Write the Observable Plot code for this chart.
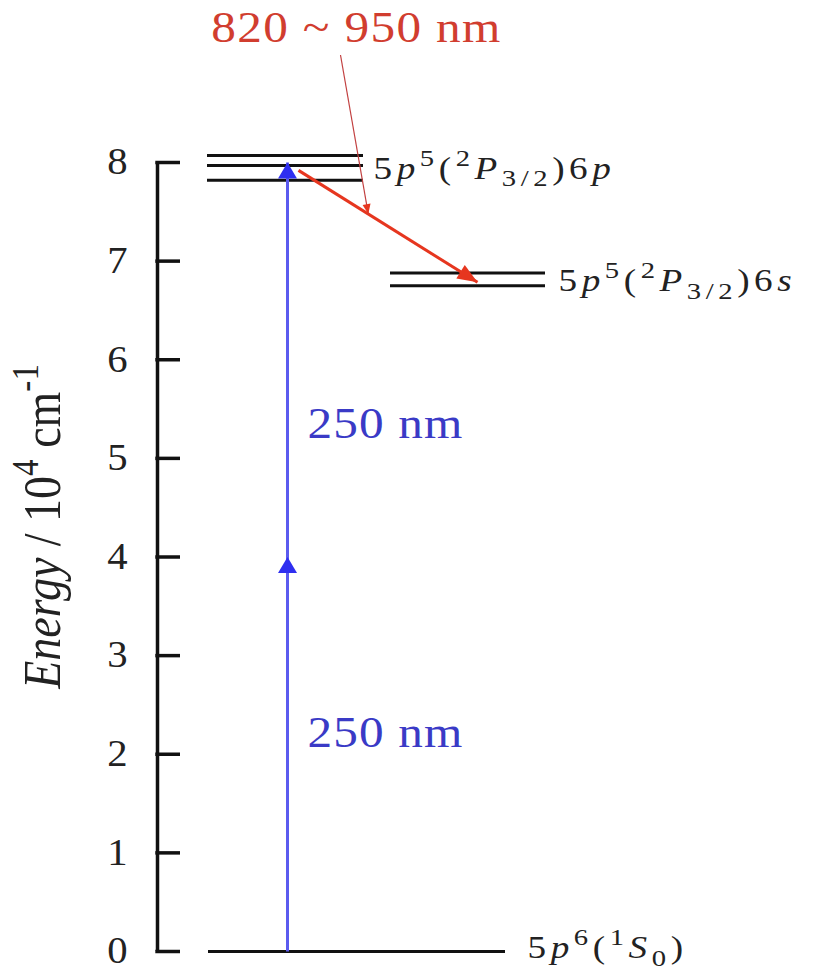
<!DOCTYPE html>
<html>
<head>
<meta charset="utf-8">
<script src="https://cdn.jsdelivr.net/npm/d3@7"></script>
<script src="https://cdn.jsdelivr.net/npm/@observablehq/plot@0.6"></script>
<style>
  html, body { margin: 0; padding: 0; background: #fff; }
  #chart { width: 821px; height: 975px; }
  #chart svg text { font-family: "Liberation Serif", "Times New Roman", Times, serif; }
</style>
</head>
<body>
<div id="chart"></div>
<script>
// Energies in units of 10^4 cm^-1
const energyTicks = [0, 1, 2, 3, 4, 5, 6, 7, 8];
const groundLevels = [0];
const sixPLevels = [8.07, 7.97, 7.82];
const sixSLevels = [6.88, 6.75];
const manifoldNames = ["ground", "6p", "6s"];
// light markup: *italic*, ^{superscript}, _{subscript}
const manifoldLabels = [
  "5*p*^{6}(^{1}*S*_{0})",
  "5*p*^{5}(^{2}*P*_{3/2})6*p*",
  "5*p*^{5}(^{2}*P*_{3/2})6*s*"
];
// two-photon excitation, drawn as two 250 nm steps
const pumpSteps = [[0, 4], [4, 8]];
const pumpLabels = ["250 nm", "250 nm"];
// 6p -> 6s emission band
const emissionStep = [7.92, 6.785];
const emissionLabel = "820 ~ 950 nm";
const axisTitle = "*Energy* / 10^{4} cm^{-1}";

// ---- layout (horizontal diagram units, axis at 0) ----
const columns = {
  ground: {x1: 5.1, x2: 34.8, labelX: 37.0, dy: -3},
  "6p":   {x1: 5.0, x2: 20.6, labelX: 21.6, dy: 2},
  "6s":   {x1: 23.3, x2: 38.8, labelX: 40.1, dy: 2}
};
const pumpX = 13.0;
const pumpLabelX = 15.0;
const pumpLabelE = [2.22, 5.35];
const emissionX = [14.1, 32.0];
const pointerStart = {x: 18.3, e: 9.09};
const pointerAt = 0.39;          // fraction along the emission arrow
const emissionLabelPos = {x: 19.9, e: 9.36};
const titlePos = {x: -11.4, e: 4.31};
const tickLabelX = -4.0;

const xScale = {domain: [0, 66.4], range: [157, 821]};
const yScale = {domain: [0, 8], range: [951, 162]};

const ink = "#111";
const blueLine = "#5b5bef";
const blueHead = "#2f2ff0";
const blueText = "#3a3ac6";
const redLine = "#e6361f";
const redText = "#d13d2f";
const redThin = "#c24040";
const serif = "Liberation Serif, Times New Roman, serif";

// ---- tables built from the arrays above ----
const manifolds = [groundLevels, sixPLevels, sixSLevels].map((levels, i) => ({
  name: manifoldNames[i], levels, label: manifoldLabels[i]
}));
const levelRows = manifolds.flatMap(m => m.levels.map(e => ({e, ...columns[m.name]})));
const labelRows = manifolds.map(m => ({
  e: d3.mean(m.levels), label: m.label, x: columns[m.name].labelX, dy: columns[m.name].dy
}));
const pumpRows = pumpSteps.map((s, i) => ({from: s[0], to: s[1], label: pumpLabels[i], labelE: pumpLabelE[i]}));

const emission = {x1: emissionX[0], x2: emissionX[1], e1: emissionStep[0], e2: emissionStep[1]};
const pointer = {
  x1: pointerStart.x, e1: pointerStart.e,
  x2: emission.x1 + pointerAt * (emission.x2 - emission.x1),
  e2: emission.e1 + pointerAt * (emission.e2 - emission.e1)
};

// screen-space direction of an arrow, in degrees clockwise from up
const sx = Plot.scale({x: xScale});
const sy = Plot.scale({y: yScale});
function screenAngle(x1, e1, x2, e2) {
  const dx = sx.apply(x2) - sx.apply(x1);
  const dy = sy.apply(e2) - sy.apply(e1);
  return Math.atan2(dx, -dy) * 180 / Math.PI;
}
emission.angle = screenAngle(emission.x1, emission.e1, emission.x2, emission.e2);
pointer.angle = screenAngle(pointer.x1, pointer.e1, pointer.x2, pointer.e2);

// filled triangular arrowhead for Plot.vector
const arrowHead = {
  draw(ctx, l, r) { ctx.moveTo(-r, 0); ctx.lineTo(0, -l); ctx.lineTo(r, 0); ctx.closePath(); }
};

// ---- rich text helpers ----
function parseRich(s) {
  const out = [];
  let i = 0;
  while (i < s.length) {
    const c = s[i];
    if ((c === "^" || c === "_") && s[i + 1] === "{") {
      const j = s.indexOf("}", i);
      out.push({t: s.slice(i + 2, j), shift: c === "^" ? "sup" : "sub"});
      i = j + 1;
    } else if (c === "*") {
      const j = s.indexOf("*", i + 1);
      out.push({t: s.slice(i + 1, j), italic: true});
      i = j + 1;
    } else {
      let j = i;
      while (j < s.length && !"^_*".includes(s[j])) j++;
      out.push({t: s.slice(i, j)});
      i = j;
    }
  }
  return out;
}
const plain = s => parseRich(s).map(p => p.t).join("");

const svg = Plot.plot({
  width: 821,
  height: 975,
  margin: 0,
  x: {...xScale, axis: null},
  y: {...yScale, axis: null},
  style: {background: "#fff", fontFamily: serif},
  marks: [
    // energy axis: spine, inward ticks, labels
    Plot.ruleX([0], {y1: 0, y2: 8, stroke: ink, strokeWidth: 3.5}),
    Plot.ruleY(energyTicks, {x1: -0.17, x2: 2.3, stroke: ink, strokeWidth: 3.5}),
    Plot.text(energyTicks, {x: tickLabelX, y: d => d, text: d => String(d), fontSize: 37, fontFamily: serif, fill: "#222"}),
    Plot.text([axisTitle], {x: titlePos.x, y: titlePos.e, text: d => plain(d), rotate: -90, fontSize: 46, fontFamily: serif, fill: "#222"}),

    // energy levels
    Plot.ruleY(levelRows, {y: "e", x1: "x1", x2: "x2", stroke: ink, strokeWidth: 3}),
    Plot.text(labelRows.filter(d => d.dy < 0), {x: "x", y: "e", text: d => plain(d.label), textAnchor: "start", fontSize: 31, fontFamily: serif, fill: "#222", dy: -3}),
    Plot.text(labelRows.filter(d => d.dy >= 0), {x: "x", y: "e", text: d => plain(d.label), textAnchor: "start", fontSize: 31, fontFamily: serif, fill: "#222", dy: 2}),

    // 250 nm pump steps
    Plot.link(pumpRows, {x1: pumpX, x2: pumpX, y1: "from", y2: "to", stroke: blueLine, strokeWidth: 3}),
    Plot.vector(pumpRows, {x: pumpX, y: "to", rotate: 0, length: 16, r: 9.5, anchor: "end", shape: arrowHead, fill: blueHead, stroke: "none"}),
    Plot.text(pumpRows, {x: pumpLabelX, y: "labelE", text: "label", textAnchor: "start", fontSize: 44, fontFamily: serif, fill: blueText}),

    // emission arrow
    Plot.link([emission], {x1: "x1", x2: "x2", y1: "e1", y2: "e2", stroke: redLine, strokeWidth: 3}),
    Plot.vector([emission], {x: "x2", y: "e2", rotate: "angle", length: 20, r: 8, anchor: "end", shape: arrowHead, fill: redLine, stroke: "none"}),

    // label pointer
    Plot.link([pointer], {x1: "x1", x2: "x2", y1: "e1", y2: "e2", stroke: redThin, strokeWidth: 1.2}),
    Plot.vector([pointer], {x: "x2", y: "e2", rotate: "angle", length: 10, r: 4, anchor: "end", shape: arrowHead, fill: redLine, stroke: "none"}),
    Plot.text([emissionLabel], {x: emissionLabelPos.x, y: emissionLabelPos.e, text: d => d, fontSize: 44, fontFamily: serif, fill: redText})
  ]
});

// typeset labels (italics, super/subscripts) and widen glyphs slightly
const textStyle = new Map();
energyTicks.forEach(t => textStyle.set(String(t), {stretch: 1.1}));
textStyle.set(plain(axisTitle), {markup: axisTitle, size: 46, stretch: 1.15, supScale: 0.72});
manifoldLabels.forEach(m => textStyle.set(plain(m), {markup: m, size: 31, stretch: 1.2, spacing: 3.8, supScale: 0.77}));
pumpLabels.forEach(p => textStyle.set(p, {stretch: 1.12, spacing: 1}));
textStyle.set(emissionLabel, {stretch: 1.12, spacing: 1.2});

const svgNS = "http://www.w3.org/2000/svg";
svg.querySelectorAll("text").forEach(el => {
  const st = textStyle.get(el.textContent);
  if (!st) return;
  if (st.markup) {
    const size = st.size;
    el.textContent = "";
    let cur = 0;
    for (const p of parseRich(st.markup)) {
      const ts = document.createElementNS(svgNS, "tspan");
      const target = p.shift === "sup" ? -0.42 * size : p.shift === "sub" ? 0.24 * size : 0;
      if (target !== cur) { ts.setAttribute("dy", (target - cur).toFixed(2)); cur = target; }
      if (p.shift) ts.setAttribute("font-size", (st.supScale * size).toFixed(1));
      if (p.italic) ts.setAttribute("font-style", "italic");
      ts.textContent = p.t;
      el.appendChild(ts);
    }
  }
  if (st.spacing) el.setAttribute("letter-spacing", st.spacing);
  if (st.stretch) {
    const t = el.getAttribute("transform") || "";
    const m = t.match(/^translate\([^)]*\)/);
    if (m) el.setAttribute("transform", `${m[0]} scale(${st.stretch},1)${t.slice(m[0].length)}`);
  }
});

document.getElementById("chart").appendChild(svg);
</script>
</body>
</html>
